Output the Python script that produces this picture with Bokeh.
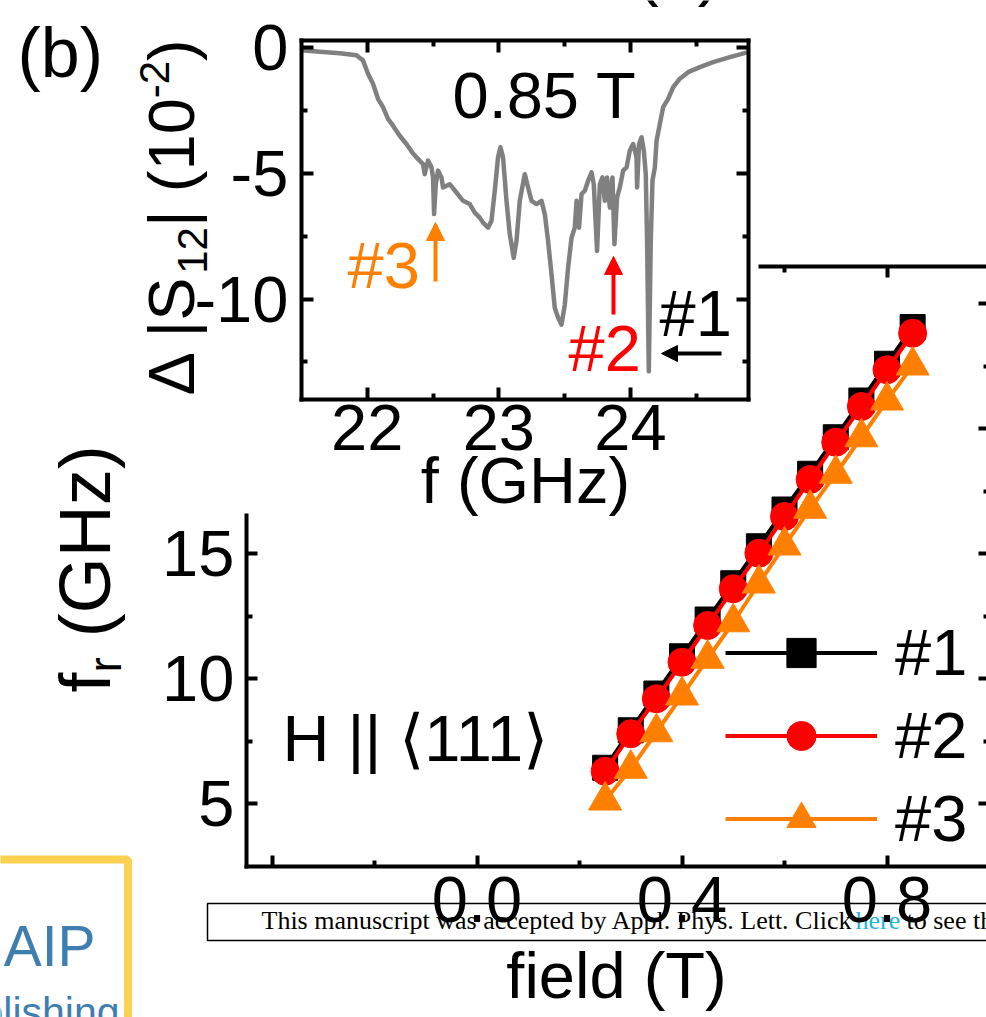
from bokeh.plotting import figure
from bokeh.models import (Range1d, LinearAxis, FixedTicker, Label, Arrow, NormalHead,
                          Legend, LegendItem, CustomJSTickFormatter, BoxAnnotation)
from bokeh.core.properties import value
from bokeh.embed import file_html
from bokeh.resources import INLINE

# ---------------- data ----------------
field_T = [0.25, 0.30, 0.35, 0.40, 0.45, 0.50, 0.55, 0.60, 0.65, 0.70, 0.75, 0.80, 0.85]
fr_1 = [6.43, 7.93, 9.40, 10.89, 12.36, 13.81, 15.29, 16.76, 18.19, 19.65, 21.12, 22.59, 24.06]
fr_2 = [6.29, 7.79, 9.19, 10.65, 12.12, 13.59, 15.01, 16.48, 17.96, 19.45, 20.88, 22.35, 23.81]
fr_3 = [5.12, 6.39, 7.85, 9.32, 10.79, 12.25, 13.80, 15.32, 16.79, 18.19, 19.65, 21.12, 22.52]
series_labels = ["#1", "#2", "#3"]
series_colors = ["#000000", "#FF0000", "#FF8000"]
series_markers = ["square", "circle", "triangle"]

freq_GHz = [21.500, 21.639, 21.791, 21.918, 21.968, 22.006, 22.044, 22.082, 22.120, 22.158,
            22.196, 22.247, 22.298, 22.348, 22.374, 22.424, 22.437, 22.462, 22.488, 22.500,
            22.508, 22.521, 22.538, 22.564, 22.576, 22.627, 22.678, 22.728, 22.779, 22.817,
            22.855, 22.880, 22.918, 22.944, 22.969, 22.994, 23.012, 23.032, 23.058, 23.083,
            23.113, 23.134, 23.159, 23.197, 23.222, 23.248, 23.286, 23.324, 23.349, 23.374,
            23.400, 23.425, 23.450, 23.476, 23.501, 23.526, 23.552, 23.577, 23.590, 23.609,
            23.628, 23.653, 23.678, 23.704, 23.721, 23.746, 23.767, 23.787, 23.805, 23.822,
            23.843, 23.863, 23.878, 23.898, 23.919, 23.944, 23.970, 23.995, 24.020, 24.046,
            24.050, 24.065, 24.084, 24.101, 24.116, 24.126, 24.139, 24.154, 24.167, 24.185,
            24.198, 24.223, 24.248, 24.286, 24.324, 24.375, 24.438, 24.527, 24.628, 24.755,
            24.894]
dS12 = [-0.10, -0.16, -0.22, -0.30, -0.50, -1.03, -1.43, -2.03, -2.36, -2.83,
        -3.10, -3.50, -3.83, -4.21, -4.36, -4.63, -5.03, -4.49, -4.76, -5.16,
        -6.62, -5.43, -4.89, -5.16, -5.56, -5.43, -5.76, -6.09, -6.22, -6.56,
        -6.76, -6.96, -7.16, -6.89, -5.69, -4.36, -3.96, -4.36, -6.09, -7.42,
        -8.36, -7.69, -6.09, -5.03, -5.56, -6.09, -6.22, -6.09, -6.62, -7.69,
        -9.02, -10.36, -10.75, -11.02, -10.22, -8.76, -7.56, -7.16, -6.09, -7.16,
        -5.82, -5.69, -5.29, -4.96, -5.43, -8.09, -5.43, -5.16, -6.09, -5.16,
        -6.36, -5.16, -7.82, -5.96, -5.56, -4.89, -4.76, -4.09, -3.83, -4.36,
        -5.56, -3.83, -3.56, -4.09, -5.03, -7.69, -12.88, -7.69, -5.29, -4.76,
        -3.70, -3.03, -2.36, -2.03, -1.57, -1.23, -0.97, -0.77, -0.57, -0.37,
        -0.17]

main_x_ticks = [-0.4, 0.0, 0.4, 0.8]
main_x_minor = [-0.2, 0.2, 0.6]
main_x_tick_labels = {-0.4: "", 0.0: "0.0", 0.4: "0.4", 0.8: "0.8"}
main_y_ticks = [5, 10, 15, 20, 25]
main_y_minor = [7.5, 12.5, 17.5, 22.5]
main_y_tick_labels = {5: "5", 10: "10", 15: "15"}
inset_x_ticks = [22, 23, 24]
inset_x_minor = [22.5, 23.5, 24.5]
inset_x_tick_labels = {22: "22", 23: "23", 24: "24"}
inset_y_ticks = [-10, -5, 0]
inset_y_minor = [-12.5, -7.5, -2.5]
inset_y_tick_labels = {-10: "-10", -5: "-5", 0: "0"}

# ---------------- layout (pixels) ----------------
W, H = 986, 1017
FONT = "Liberation Sans"
SHIFT = 0.38  # measured offset of the rendered alphabetic baseline, in em


def lin(v0, p0, v1, p1):
    k = (v1 - v0) / (p1 - p0)
    return lambda pix: v0 + (pix - p0) * k


mx = lin(0.0, 476.5, 0.8, 886.5)
my = lin(5.0, 803.0, 15.0, 553.0)
ix = lin(22.0, 366.7, 24.0, 630.0)
iy = lin(0.0, 47.3, -10.0, 298.5)

MX0, MX1, MY0, MY1 = -0.45, 1.0, 2.5, 26.5
IX0, IX1, IY0, IY1 = 21.5, 24.9, -14.0, 0.3
main_top_start = mx(760)      # visible part of the main frame's top edge
main_left_end = my(515)       # visible part of the main frame's left edge


def within(vals, lo, hi):
    return [v for v in vals if lo <= v <= hi]


p = figure(width=W, height=H, x_range=Range1d(mx(0), mx(W)), y_range=Range1d(my(H), my(0)),
           x_axis_type=None, y_axis_type=None, toolbar_location=None, output_backend="svg",
           min_border=0, outline_line_color=None, background_fill_color="white",
           border_fill_color="white")
p.extra_x_ranges = {"ix": Range1d(ix(0), ix(W)), "px": Range1d(0, W)}
p.extra_y_ranges = {"iy": Range1d(iy(H), iy(0)), "py": Range1d(H, 0)}


def add_axis(side, loc, bounds, ticks, minor, xr="default", yr="default", labels=None,
             tick_in=11, minor_in=6, standoff=10):
    ax = LinearAxis(fixed_location=loc, bounds=bounds,
                    ticker=FixedTicker(ticks=within(ticks, *bounds),
                                       minor_ticks=within(minor, *bounds)),
                    x_range_name=xr, y_range_name=yr,
                    axis_line_width=4, axis_line_cap="square", axis_line_color="black",
                    major_tick_in=tick_in, major_tick_out=0, major_tick_line_width=4,
                    minor_tick_in=minor_in, minor_tick_out=0, minor_tick_line_width=4,
                    major_label_standoff=standoff,
                    major_label_text_font=FONT, major_label_text_font_size="65px",
                    major_label_text_color="black")
    if labels is not None:
        ax.major_label_overrides = labels
    else:
        ax.formatter = CustomJSTickFormatter(code="return ''")
    p.add_layout(ax, side)


# main plot frame
add_axis("below", MY0, (MX0, MX1), main_x_ticks, main_x_minor, labels=main_x_tick_labels, standoff=11)
add_axis("left", MX0, (MY0, main_left_end), main_y_ticks, main_y_minor,
         labels=main_y_tick_labels, standoff=12)
add_axis("above", MY1, (main_top_start, MX1), main_x_ticks, main_x_minor)
add_axis("right", MX1, (MY0, MY1), main_y_ticks, main_y_minor)

# inset frame
add_axis("below", IY0, (IX0, IX1), inset_x_ticks, inset_x_minor, "ix", "iy",
         labels=inset_x_tick_labels, tick_in=12, standoff=6)
add_axis("left", IX0, (IY0, IY1), inset_y_ticks, inset_y_minor, "ix", "iy",
         labels=inset_y_tick_labels, tick_in=12, standoff=13)
add_axis("above", IY1, (IX0, IX1), inset_x_ticks, inset_x_minor, "ix", "iy", tick_in=12)
add_axis("right", IX1, (IY0, IY1), inset_y_ticks, inset_y_minor, "ix", "iy", tick_in=12)

# banner (under the axes)
p.add_layout(BoxAnnotation(left=207, right=1010, top=903, bottom=940, x_range_name="px",
                           y_range_name="py", fill_alpha=0, line_color="black", line_alpha=1,
                           line_width=1.5, level="underlay"))
serif = value("Liberation Serif")
by = 930 - SHIFT * 26
for bx, btxt, bcol in [(261, "This manuscript was accepted by Appl. Phys. Lett. Click", "black"),
                       (855, "here", "#1DB4E0"),
                       (906, "to see the", "black")]:
    p.text(x=[bx], y=[by], text=[btxt], x_range_name="px", y_range_name="py", text_font=serif,
           text_font_size="26px", text_color=bcol, text_baseline="alphabetic", level="underlay")

# main data
sizes = [25, 28, 33]
rend = []
for ys, col, mk, sz in zip([fr_1, fr_2, fr_3], series_colors, series_markers, sizes):
    ln = p.line(field_T, ys, line_color=col, line_width=4)
    sc = p.scatter(field_T, ys, marker=mk, size=sz, fill_color=col, line_color=col)
    rend.append([ln, sc])

# inset curve
p.line(freq_GHz, dS12, x_range_name="ix", y_range_name="iy", line_color="#808080",
       line_width=4.5, line_join="round")

legend = Legend(items=[LegendItem(label=lab, renderers=r) for lab, r in zip(series_labels, rend)],
                location=(725, 161), glyph_width=152, glyph_height=73, label_height=73,
                label_standoff=18, spacing=8, padding=0, margin=0, border_line_color=None,
                background_fill_alpha=0, label_text_font=FONT, label_text_font_size="65px",
                label_text_color="black")
p.add_layout(legend)


def label(x, y, text, size=65, color="black", align="left", angle=0, font=FONT):
    # (x, y): start of the text baseline, in page pixels
    if angle == 0:
        y = y - SHIFT * size
    else:
        x = x - SHIFT * size
    p.add_layout(Label(x=x, y=y, x_range_name="px", y_range_name="py", text=text,
                       text_font=font, text_font_size=f"{size}px", text_color=color,
                       text_align=align, text_baseline="alphabetic", angle=angle,
                       angle_units="deg"))


label(17, 79, "(b)", size=70)
label(635, -6, "(a)", size=70)
label(452, 120, "0.85 T")
label(347, 290, "#3", color="#FF8000")
label(568, 373, "#2", color="#FF0000")
label(659, 338, "#1")
label(282, 763, "H || \u27e8111\u27e9")
label(525, 505, "f (GHz)", align="center")
label(616, 1000, "field (T)", align="center")

# inset y label: Δ |S12| (10^-2)
label(196, 395, "\u0394 |S", angle=90)
label(208, 273.3, "12", size=42, angle=90)
label(196, 226.6, "| (10", angle=90)
label(170, 97.7, "-2", size=42, angle=90)
label(196, 60.4, ")", angle=90)

# main y label: f_r (GHz)
label(112, 692, "f", size=72, angle=90)
label(122, 672, "r", size=46, angle=90)
label(112, 636.7, "(GHz)", size=72, angle=90)

# arrows in inset
for xs, ys_, xe, ye, col, hs in [(435, 281, 435, 222, "#FF8000", 18),
                                  (613, 314, 613, 256, "#FF0000", 18),
                                  (721, 353, 661, 353, "#000000", 16)]:
    p.add_layout(Arrow(end=NormalHead(size=hs, fill_color=col, line_color=col, line_width=1),
                       x_start=xs, y_start=ys_, x_end=xe, y_end=ye, line_color=col,
                       line_width=4, x_range_name="px", y_range_name="py"))

# publisher logo fragment
p.add_layout(BoxAnnotation(left=-20, right=127.5, top=859, bottom=1040, x_range_name="px",
                           y_range_name="py", fill_alpha=0, line_color="#FCD150", line_alpha=1,
                           line_width=8))
label(95, 967, "AIP", size=57, color="#3F7FB0", align="right")
label(119, 1027, "Publishing", size=41, color="#3F7FB0", align="right")

open("out.html", "w").write(file_html(p, INLINE))
